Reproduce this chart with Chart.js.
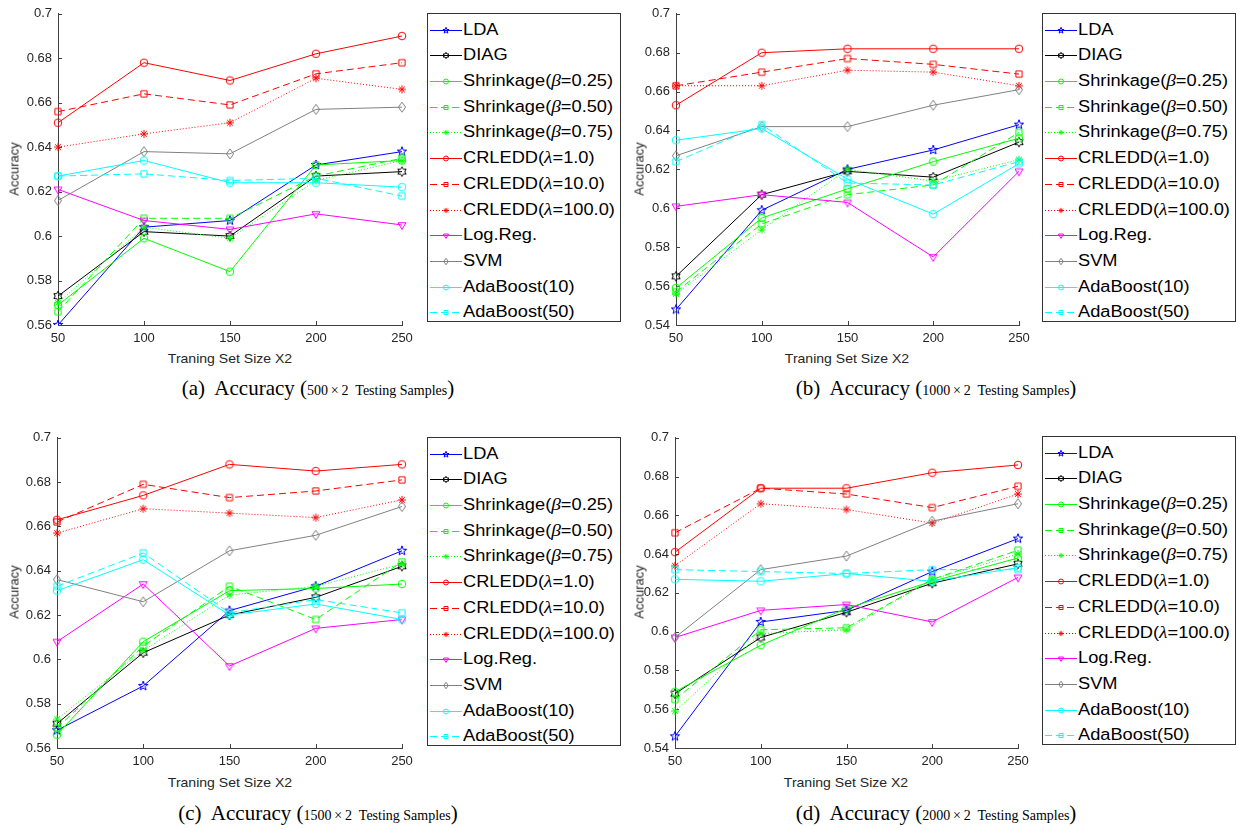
<!DOCTYPE html>
<html><head><meta charset="utf-8">
<script src="https://cdn.jsdelivr.net/npm/chart.js@4.4.1/dist/chart.umd.min.js"></script>
<style>
body{margin:0;background:#fff;width:1238px;height:829px;overflow:hidden;position:relative;font-family:'Liberation Sans',Arial,sans-serif;}
canvas.cv{position:absolute;}
.ytitle{position:absolute;font-size:13px;color:#262626;transform:translate(-50%,-50%) rotate(-90deg);white-space:nowrap;}
.xtitle{position:absolute;font-size:13px;color:#262626;transform:translate(-50%,-50%) scaleX(1.08);white-space:nowrap;}
.cap{position:absolute;font-family:'Liberation Serif','Times New Roman',serif;font-size:21px;color:#000;transform:translate(-50%,-50%);white-space:nowrap;}
.cap small{font-size:14px;}
.legend{position:absolute;border:1px solid #333;background:#fff;box-sizing:border-box;}
.row{position:absolute;left:0;height:26px;width:100%;}
.row canvas{position:absolute;left:2px;top:3px;}
.row span{position:absolute;left:35px;top:3px;line-height:20px;font-size:16px;color:#000;transform:scaleX(1.14);transform-origin:left center;white-space:nowrap;}
.row i{font-family:'Liberation Serif','Times New Roman',serif;font-size:17px;}
</style></head><body>
<script>
// ---------- data ----------
const sizes = ['50', '100', '150', '200', '250'];
const methodLabels = ['LDA', 'DIAG', 'Shrinkage(<i>&beta;</i>=0.25)', 'Shrinkage(<i>&beta;</i>=0.50)', 'Shrinkage(<i>&beta;</i>=0.75)',
  'CRLEDD(<i>&lambda;</i>=1.0)', 'CRLEDD(<i>&lambda;</i>=10.0)', 'CRLEDD(<i>&lambda;</i>=100.0)', 'Log.Reg.', 'SVM', 'AdaBoost(10)', 'AdaBoost(50)'];

// (a) 500x2 testing samples
const a_LDA  = [0.560, 0.604, 0.607, 0.632, 0.638];
const a_DIAG = [0.573, 0.602, 0.600, 0.627, 0.629];
const a_S25  = [0.569, 0.599, 0.584, 0.632, 0.634];
const a_S50  = [0.566, 0.608, 0.608, 0.627, 0.635];
const a_S75  = [0.570, 0.604, 0.599, 0.625, 0.634];
const a_C1   = [0.651, 0.678, 0.670, 0.682, 0.690];
const a_C10  = [0.656, 0.664, 0.659, 0.673, 0.678];
const a_C100 = [0.640, 0.646, 0.651, 0.671, 0.666];
const a_LR   = [0.621, 0.607, 0.603, 0.610, 0.605];
const a_SVM  = [0.616, 0.638, 0.637, 0.657, 0.658];
const a_A10  = [0.627, 0.634, 0.624, 0.624, 0.622];
const a_A50  = [0.627, 0.628, 0.625, 0.626, 0.618];

// (b) 1000x2 testing samples
const b_LDA  = [0.548, 0.599, 0.620, 0.630, 0.643];
const b_DIAG = [0.565, 0.607, 0.619, 0.616, 0.634];
const b_S25  = [0.559, 0.595, 0.610, 0.624, 0.636];
const b_S50  = [0.557, 0.592, 0.607, 0.612, 0.639];
const b_S75  = [0.556, 0.589, 0.620, 0.614, 0.625];
const b_C1   = [0.653, 0.680, 0.682, 0.682, 0.682];
const b_C10  = [0.663, 0.670, 0.677, 0.674, 0.669];
const b_C100 = [0.663, 0.663, 0.671, 0.670, 0.663];
const b_LR   = [0.601, 0.607, 0.603, 0.575, 0.619];
const b_SVM  = [0.627, 0.642, 0.642, 0.653, 0.661];
const b_A10  = [0.635, 0.641, 0.615, 0.597, 0.623];
const b_A50  = [0.624, 0.643, 0.613, 0.612, 0.624];

// (c) 1500x2 testing samples
const c_LDA  = [0.568, 0.588, 0.622, 0.633, 0.649];
const c_DIAG = [0.571, 0.603, 0.620, 0.628, 0.642];
const c_S25  = [0.566, 0.608, 0.631, 0.632, 0.634];
const c_S50  = [0.569, 0.606, 0.633, 0.618, 0.644];
const c_S75  = [0.573, 0.604, 0.629, 0.633, 0.643];
const c_C1   = [0.663, 0.674, 0.688, 0.685, 0.688];
const c_C10  = [0.662, 0.679, 0.673, 0.676, 0.681];
const c_C100 = [0.657, 0.668, 0.666, 0.664, 0.672];
const c_LR   = [0.608, 0.634, 0.597, 0.614, 0.618];
const c_SVM  = [0.636, 0.626, 0.649, 0.656, 0.669];
const c_A10  = [0.631, 0.645, 0.620, 0.625, 0.618];
const c_A50  = [0.633, 0.648, 0.621, 0.627, 0.621];

// (d) 2000x2 testing samples
const d_LDA  = [0.546, 0.605, 0.611, 0.631, 0.648];
const d_DIAG = [0.568, 0.597, 0.610, 0.625, 0.635];
const d_S25  = [0.569, 0.593, 0.612, 0.626, 0.638];
const d_S50  = [0.565, 0.601, 0.602, 0.627, 0.642];
const d_S75  = [0.559, 0.599, 0.601, 0.627, 0.640];
const d_C1   = [0.641, 0.674, 0.674, 0.682, 0.686];
const d_C10  = [0.651, 0.674, 0.671, 0.664, 0.675];
const d_C100 = [0.634, 0.666, 0.663, 0.656, 0.671];
const d_LR   = [0.597, 0.611, 0.614, 0.605, 0.628];
const d_SVM  = [0.597, 0.632, 0.639, 0.657, 0.666];
const d_A10  = [0.627, 0.626, 0.630, 0.626, 0.633];
const d_A50  = [0.632, 0.631, 0.630, 0.632, 0.632];

const yRangeAC = [0.56, 0.70];
const yRangeBD = [0.54, 0.70];
const captionSamples = ['500', '1000', '1500', '2000'];

// ---------- styles ----------
const methodStyle = [
  {c:'#0000ff', m:'p', d:[]}, {c:'#000000', m:'h', d:[]},
  {c:'#00ff00', m:'o', d:[]}, {c:'#00ff00', m:'s', d:[7,4]}, {c:'#00ff00', m:'*', d:[1,2]},
  {c:'#ff0000', m:'o', d:[]}, {c:'#ff0000', m:'s', d:[7,4]}, {c:'#ff0000', m:'*', d:[1,2]},
  {c:'#ff00ff', m:'v', d:[]}, {c:'#808080', m:'d', d:[]},
  {c:'#00ffff', m:'o', d:[]}, {c:'#00ffff', m:'s', d:[7,4]}
];
const axisColor = '#404040';
const FONT = "'Liberation Sans', Arial, sans-serif";

function starPath(ctx, cx, cy, n, ro, ri){
  for(let i=0;i<2*n;i++){
    const r = i%2===0 ? ro : ri;
    const t = -Math.PI/2 + i*Math.PI/n;
    const x = cx + r*Math.cos(t), y = cy + r*Math.sin(t);
    if(i===0) ctx.moveTo(x,y); else ctx.lineTo(x,y);
  }
  ctx.closePath();
}
function drawMarker(ctx, type, cx, cy, k, color){
  ctx.save(); ctx.strokeStyle=color; ctx.lineWidth=1; ctx.setLineDash([]); ctx.beginPath();
  if(type==='o'){ ctx.arc(cx,cy,3.8*k,0,Math.PI*2); }
  else if(type==='s'){ const h=3.1*k; ctx.rect(cx-h,cy-h,2*h,2*h); }
  else if(type==='*'){ const r=4*k; for(let a=0;a<4;a++){const t=a*Math.PI/4; ctx.moveTo(cx-r*Math.cos(t),cy-r*Math.sin(t)); ctx.lineTo(cx+r*Math.cos(t),cy+r*Math.sin(t));} }
  else if(type==='v'){ const r=4.5*k; ctx.moveTo(cx-0.87*r,cy-0.5*r); ctx.lineTo(cx+0.87*r,cy-0.5*r); ctx.lineTo(cx,cy+r); ctx.closePath(); }
  else if(type==='d'){ ctx.moveTo(cx,cy-5*k); ctx.lineTo(cx+3.6*k,cy); ctx.lineTo(cx,cy+5*k); ctx.lineTo(cx-3.6*k,cy); ctx.closePath(); }
  else if(type==='p'){ starPath(ctx,cx,cy,5,5*k,2*k); }
  else if(type==='h'){ starPath(ctx,cx,cy,6,4.8*k,2.75*k); }
  ctx.stroke(); ctx.restore();
}
function markerCanvas(type, color){
  const c = document.createElement('canvas'); c.width=18; c.height=18;
  drawMarker(c.getContext('2d'), type, 9, 9, 1, color);
  return c;
}

const inTicks = {id:'inTicks', beforeDatasetsDraw(chart){
  const {ctx, chartArea:a, scales:{x,y}} = chart;
  ctx.save(); ctx.strokeStyle=axisColor; ctx.lineWidth=1;
  y.ticks.forEach(t=>{ const py=Math.round(y.getPixelForValue(t.value))+0.5; ctx.beginPath(); ctx.moveTo(a.left,py); ctx.lineTo(a.left+4,py); ctx.stroke(); });
  x.ticks.forEach((t,i)=>{ const px=Math.round(x.getPixelForTick(i))+0.5; ctx.beginPath(); ctx.moveTo(px,a.bottom); ctx.lineTo(px,a.bottom-4); ctx.stroke(); });
  ctx.restore();
}};

const panels = [
  {tag:'a', series:[a_LDA,a_DIAG,a_S25,a_S50,a_S75,a_C1,a_C10,a_C100,a_LR,a_SVM,a_A10,a_A50], range:yRangeAC,
   cx:0, cy:0, L:58, T:13, R:402, B:325, legL:427, legT:13, yt:[14,169], xt:[230,358], cap:[318,388]},
  {tag:'b', series:[b_LDA,b_DIAG,b_S25,b_S50,b_S75,b_C1,b_C10,b_C100,b_LR,b_SVM,b_A10,b_A50], range:yRangeBD,
   cx:620, cy:0, L:676, T:13, R:1019, B:325, legL:1042, legT:13, yt:[639,169], xt:[847,358], cap:[936,388]},
  {tag:'c', series:[c_LDA,c_DIAG,c_S25,c_S50,c_S75,c_C1,c_C10,c_C100,c_LR,c_SVM,c_A10,c_A50], range:yRangeAC,
   cx:0, cy:424, L:57, T:437, R:402, B:748, legL:427, legT:437, yt:[14,592], xt:[230,782], cap:[318,813]},
  {tag:'d', series:[d_LDA,d_DIAG,d_S25,d_S50,d_S75,d_C1,d_C10,d_C100,d_LR,d_SVM,d_A10,d_A50], range:yRangeBD,
   cx:620, cy:424, L:675, T:437, R:1018, B:748, legL:1042, legT:436, yt:[639,592], xt:[846,782], cap:[936,813]}
];

function addDiv(cls, html, x, y){
  const d=document.createElement('div'); d.className=cls; d.innerHTML=html;
  d.style.left=x+'px'; d.style.top=y+'px'; document.body.appendChild(d); return d;
}

panels.forEach((p, pi)=>{
  const cw=420, ch=350;
  const cv=document.createElement('canvas'); cv.className='cv'; cv.width=cw; cv.height=ch;
  cv.style.left=p.cx+'px'; cv.style.top=p.cy+'px'; cv.style.width=cw+'px'; cv.style.height=ch+'px';
  document.body.appendChild(cv);
  const yW=p.L-p.cx, xH=ch-(p.B-p.cy);
  new Chart(cv.getContext('2d'), {
    type:'line',
    data:{labels:sizes, datasets:p.series.map((s,i)=>({
      label:methodLabels[i], data:s, borderColor:methodStyle[i].c, backgroundColor:methodStyle[i].c,
      borderWidth:1, borderDash:methodStyle[i].d, pointStyle:markerCanvas(methodStyle[i].m, methodStyle[i].c),
      pointRadius:4, fill:false, tension:0, order:-i
    }))},
    options:{
      responsive:false, animation:false, events:[],
      layout:{padding:{left:0, top:p.T-p.cy, right:p.cx+cw-p.R, bottom:0}},
      plugins:{legend:{display:false}, tooltip:{enabled:false}},
      scales:{
        x:{type:'category', offset:false, grid:{display:false, drawTicks:false},
           border:{display:true, color:axisColor, width:1},
           ticks:{color:'#262626', font:{family:FONT, size:13}, padding:6, maxRotation:0, autoSkip:false},
           afterFit(s){ s.height=xH; }},
        y:{type:'linear', min:p.range[0], max:p.range[1], grid:{display:false, drawTicks:false},
           border:{display:true, color:axisColor, width:1},
           ticks:{stepSize:0.02, color:'#262626', font:{family:FONT, size:13}, padding:6,
                  callback:v=>String(+(+v).toFixed(2))},
           afterFit(s){ s.width=yW; }}
      }
    },
    plugins:[inTicks]
  });
  addDiv('ytitle','Accuracy',p.yt[0],p.yt[1]);
  addDiv('xtitle','Traning Set Size X2',p.xt[0],p.xt[1]);
  addDiv('cap','('+p.tag+')&nbsp; Accuracy (<small>'+captionSamples[pi]+'&thinsp;&times;&thinsp;2&nbsp; Testing Samples</small>)',p.cap[0],p.cap[1]);
  // legend
  const leg=document.createElement('div'); leg.className='legend';
  leg.style.left=p.legL+'px'; leg.style.top=p.legT+'px'; leg.style.width='194px'; leg.style.height='309px';
  methodLabels.forEach((lab,i)=>{
    const row=document.createElement('div'); row.className='row'; row.style.top=Math.round(2.6+i*25.7)+'px';
    const sc=document.createElement('canvas'); sc.width=32; sc.height=20;
    const g=sc.getContext('2d'); g.strokeStyle=methodStyle[i].c; g.lineWidth=1; g.setLineDash(methodStyle[i].d);
    g.beginPath(); g.moveTo(0,10.5); g.lineTo(32,10.5); g.stroke();
    drawMarker(g, methodStyle[i].m, 16, 10.5, 0.65, methodStyle[i].c);
    const sp=document.createElement('span'); sp.innerHTML=lab;
    row.appendChild(sc); row.appendChild(sp); leg.appendChild(row);
  });
  document.body.appendChild(leg);
});
</script>
</body></html>
